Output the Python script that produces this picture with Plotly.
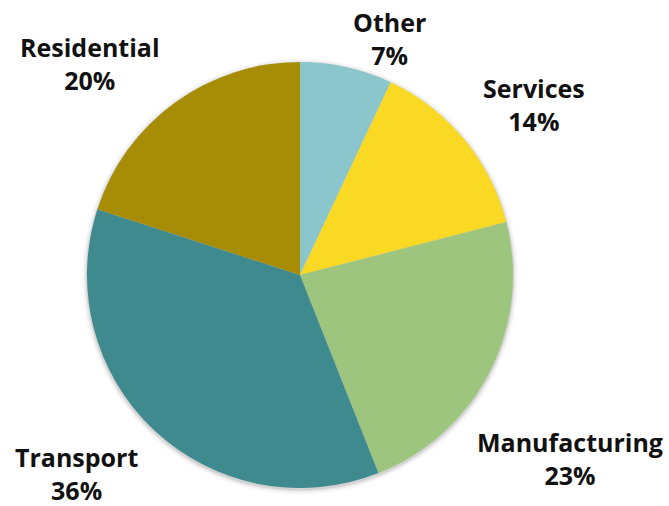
import math
import plotly.graph_objects as go

categories = ["Other", "Services", "Manufacturing", "Transport", "Residential"]
values = [7, 14, 23, 36, 20]
colors = ["#8AC6CC", "#F9D923", "#9DC57D", "#3F8A8F", "#A68D05"]

W, H = 669, 506
CX, CY, R = 300, 275, 213          # pie centre and radius in pixels
LABEL_R = 1.1 * R                   # distance of the label corner from the centre
FONT_SIZE = 25
EDGE = 4
BOTTOM_SHIFT = 14
TOP_SHIFT = -8

fig = go.Figure(go.Pie(
    labels=categories,
    values=values,
    sort=False,
    direction="clockwise",
    rotation=0,
    marker=dict(colors=colors, line=dict(width=0)),
    textinfo="none",
    domain=dict(x=[(CX - R) / W, (CX + R) / W], y=[(H - CY - R) / H, (H - CY + R) / H]),
    showlegend=False,
    hoverinfo="label+percent",
))

# soft shadow behind the pie
shapes = []
for extra, alpha in [(5, 0.025), (3.5, 0.035), (2, 0.05), (1, 0.07)]:
    rr = R + extra
    shapes.append(dict(
        type="circle", xref="paper", yref="paper", layer="below",
        x0=(CX - rr) / W, x1=(CX + rr) / W,
        y0=1 - (CY + 1.5 + rr) / H, y1=1 - (CY + 1.5 - rr) / H,
        fillcolor=f"rgba(0,0,0,{alpha})", line=dict(width=0),
    ))

# label placement derived from the slice mid-angles
total = sum(values)
annotations = []
cum = 0
for cat, val in zip(categories, values):
    theta = 2 * math.pi * (cum + val / 2) / total
    cum += val
    text = f"<b>{cat}</b><br><b>{val}%</b>"
    w_est = max(len(cat), len(f"{val}%")) * 0.585 * FONT_SIZE
    s, c = math.sin(theta), math.cos(theta)
    px = CX + LABEL_R * s
    py = CY - LABEL_R * c
    xanchor = "left" if s >= 0 else "right"
    yanchor = "bottom" if c > 0 else "top"
    # slide along the circle if the label overflows horizontally
    if xanchor == "left" and px + w_est > W - EDGE:
        sv = (W - EDGE - w_est - CX) / LABEL_R
        th2 = math.asin(sv)
        if c < 0:
            th2 = math.pi - th2
        px = CX + LABEL_R * math.sin(th2)
        py = CY - LABEL_R * math.cos(th2)
    py += BOTTOM_SHIFT if yanchor == "bottom" else TOP_SHIFT
    h_est = 2 * 1.3 * FONT_SIZE + 6
    if yanchor == "bottom" and py - h_est < 2:
        py = 3
        yanchor = "top"
    annotations.append(dict(
        x=px / W, y=1 - py / H, xref="paper", yref="paper",
        text=text, showarrow=False, align="center",
        xanchor=xanchor, yanchor=yanchor,
        font=dict(family="Open Sans", size=FONT_SIZE, color="#111111"),
    ))

fig.update_layout(
    width=W, height=H,
    margin=dict(l=0, r=0, t=0, b=0),
    paper_bgcolor="white",
    plot_bgcolor="white",
    showlegend=False,
    annotations=annotations,
    shapes=shapes,
)

fig.write_html("out.html", config={"displayModeBar": False},
               post_script="document.body.style.margin='0';")
